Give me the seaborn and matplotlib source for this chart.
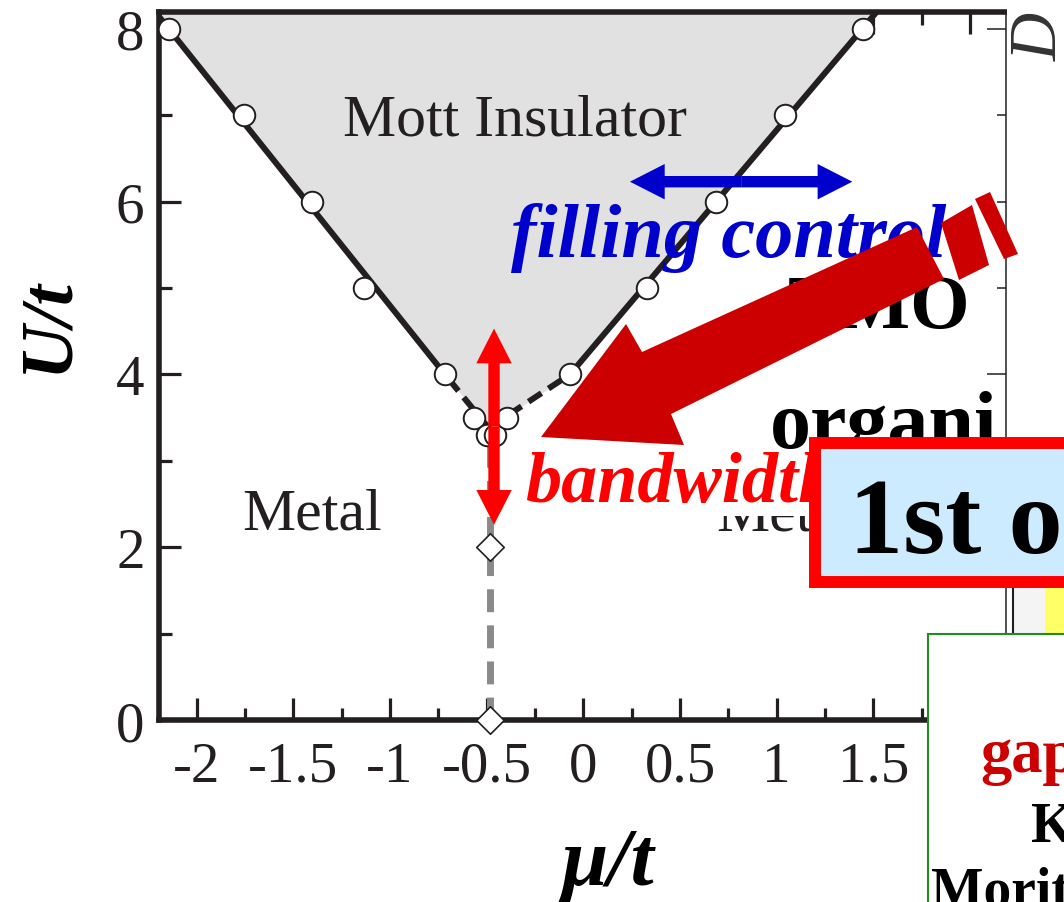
import matplotlib
matplotlib.use("Agg")
import matplotlib.pyplot as plt
from matplotlib.patches import Polygon, Rectangle, ArrowStyle
from matplotlib.ticker import MultipleLocator, FixedLocator, FixedFormatter
import seaborn as sns

# ---- data ---------------------------------------------------------------
# computed boundary of the Mott-insulating region (open circles)
mu_boundary = [-2.144, -1.756, -1.405, -1.133, -0.716, -0.564, -0.500,
               -0.457, -0.393, -0.069, 0.328, 0.688, 1.044, 1.444]
U_boundary = [8.0, 7.0, 6.0, 5.0, 4.0, 3.5, 3.3, 3.3, 3.5, 4.0, 5.0, 6.0, 7.0, 8.0]

# fitted edges of the insulating wedge (apex, U=4, top)
edge_U = [3.38, 4.0, 8.4]
edge_mu_left = [-0.49, -0.716, -2.287]
edge_mu_right = [-0.49, -0.069, 1.594]

# half-filling points (diamonds) and the metallic line below the apex
mu_half = [-0.485, -0.485]
U_half = [2.0, 0.0]
U_half_line = [0.0, 3.3]

# control arrows
filling_mu = [0.241, 1.391]
filling_U = [6.23, 6.23]
bandwidth_mu = [-0.462, -0.462]
bandwidth_U = [2.26, 4.53]

xtick_values = [-2, -1.5, -1, -0.5, 0, 0.5, 1, 1.5, 2]
xtick_labels = ["-2", "-1.5", "-1", "-0.5", "0", "0.5", "1", "1.5", "2"]
ytick_values = [0, 2, 4, 6, 8]
ytick_labels = ["0", "2", "4", "6", "8"]

INK = "#231F20"
DARK_RED = "#CC0000"
RED = "#FF0000"
BLUE = "#0000CC"

sns.set_theme(style="ticks")
plt.rcParams.update({
    "font.family": ["Liberation Serif", "DejaVu Serif"],
    "axes.unicode_minus": False,
})

W, H, DPI = 1064, 903, 100
fig = plt.figure(figsize=(W / DPI, H / DPI), dpi=DPI)
fig.patch.set_facecolor("white")

ax = fig.add_axes([0.14897, 0.20155, 0.79624, 0.78405])
ax_r = ax.twinx()
ax.set_zorder(2)
ax_r.set_zorder(1)
ax.patch.set_visible(False)

XLIM = (-2.197, 2.184)
YLIM = (0.0, 8.194)
ax.set_xlim(*XLIM)
ax.set_ylim(*YLIM)
ax_r.set_ylim(*YLIM)

# ---- phase diagram -------------------------------------------------------
ax.fill_betweenx(edge_U, edge_mu_left, edge_mu_right, color="#E1E1E1", lw=0, zorder=1)

for edge in (edge_mu_left, edge_mu_right):
    sns.lineplot(x=edge[1:], y=edge_U[1:], sort=False, estimator=None, ax=ax,
                 color=INK, lw=4.3, zorder=3)
    sns.lineplot(x=edge[:2], y=edge_U[:2], sort=False, estimator=None, ax=ax,
                 color=INK, lw=4.3, linestyle=(0, (2.6, 1.4)), zorder=3)

sns.lineplot(x=mu_half, y=U_half_line, sort=False, estimator=None,
             orient="y", ax=ax, color="#8A8A8A", lw=5.0,
             linestyle=(0, (3.3, 1.9)), zorder=2)

sns.scatterplot(x=mu_boundary, y=U_boundary, ax=ax, marker="o", s=15.5 ** 2,
                color="white", edgecolor=INK, linewidth=1.4, zorder=4, legend=False)
sns.scatterplot(x=mu_half, y=U_half, ax=ax, marker="D", s=14.0 ** 2,
                color="white", edgecolor=INK, linewidth=1.2, zorder=5, legend=False)
ax.collections[-1].set_clip_on(False)


def double_arrow(axis, xs, ys, color, zorder):
    """Two filled arrows pointing outward from the midpoint."""
    mid = (sum(xs) / 2, sum(ys) / 2)
    style = ArrowStyle.Simple(head_length=25, head_width=25.5, tail_width=8.2)
    for end in zip(xs, ys):
        axis.annotate("", xy=end, xytext=mid, zorder=zorder,
                      arrowprops=dict(arrowstyle=style, mutation_scale=1, color=color,
                                      lw=0, shrinkA=0, shrinkB=0))


double_arrow(ax, filling_mu, filling_U, BLUE, 7)
double_arrow(ax, bandwidth_mu, bandwidth_U, RED, 7)

ax.text(-0.351, 6.78, "Mott Insulator", ha="center", va="baseline", fontsize=43,
        color=INK, zorder=3)
ax.text(-1.403, 2.22, "Metal", ha="center", va="baseline", fontsize=43, color=INK, zorder=3)
ax.text(0.686, 2.21, "Metal", ha="left", va="baseline", fontsize=43, color=INK, zorder=3)
ax.text(-0.372, 5.37, "filling control", ha="left", va="baseline", fontsize=55,
        fontweight="bold", fontstyle="italic", color=BLUE, zorder=6)
ax.text(-0.300, 2.53, "bandwidth", ha="left", va="baseline", fontsize=52,
        fontweight="bold", fontstyle="italic", color=RED, zorder=6,
        bbox=dict(facecolor="white", edgecolor="none", pad=0))

# ---- axes styling ----------------------------------------------------------
for side in ("left", "bottom", "top"):
    ax.spines[side].set_linewidth(4.0)
    ax.spines[side].set_color(INK)
ax.spines["right"].set_visible(False)

ax.xaxis.set_major_locator(FixedLocator(xtick_values))
ax.xaxis.set_major_formatter(FixedFormatter(xtick_labels))
ax.xaxis.set_minor_locator(MultipleLocator(0.25))
ax.yaxis.set_major_locator(FixedLocator(ytick_values))
ax.yaxis.set_major_formatter(FixedFormatter(ytick_labels))
ax.yaxis.set_minor_locator(MultipleLocator(1))

ax.tick_params(axis="both", which="both", direction="in", color=INK, width=2.3,
               labelcolor=INK, labelsize=41)
ax.tick_params(axis="both", which="major", length=16)
ax.tick_params(axis="both", which="minor", length=9)
ax.tick_params(axis="x", which="both", top=True, bottom=True, pad=15)
ax.tick_params(axis="y", which="both", left=True, right=False, pad=10)

ax.set_xlabel("μ/t", fontsize=60, fontweight="bold", fontstyle="italic", color="black")
ax.xaxis.set_label_coords(0.530, -0.231)
ax.xaxis.label.set_va("baseline")
ax.set_ylabel("U/t", fontsize=54, fontweight="bold", fontstyle="italic", color="black")
ax.yaxis.set_label_coords(-0.1092, 0.5593)
ax.yaxis.label.set_va("baseline")

for side in ("left", "bottom", "top"):
    ax_r.spines[side].set_visible(False)
ax_r.spines["right"].set_linewidth(1.1)
ax_r.spines["right"].set_color(INK)
ax_r.yaxis.set_major_locator(MultipleLocator(4))
ax_r.yaxis.set_minor_locator(MultipleLocator(1))
ax_r.tick_params(axis="y", which="both", direction="in", color=INK, width=1.1,
                 labelright=False, right=True)
ax_r.tick_params(axis="y", which="major", length=13.7)
ax_r.tick_params(axis="y", which="minor", length=6.5)

# ---- surrounding slide elements (figure pixel frame) --------------------
ov = fig.add_axes([0, 0, 1, 1])
ov.set_zorder(3)
ov.set_xlim(0, W)
ov.set_ylim(H, 0)
ov.axis("off")
ov.patch.set_visible(False)

ov.text(970, 328, "TMO", ha="right", va="baseline", fontsize=55, fontweight="bold",
        color="black", zorder=1)
ov.text(770, 448, "organi", ha="left", va="baseline", fontsize=59, fontweight="bold",
        color="black", zorder=1)
ov.add_patch(Rectangle((1007, -5), 80, 438, facecolor="white", edgecolor="none", zorder=2))
ov.text(1040, 37, "D", rotation=90, ha="center", va="center", fontsize=48,
        fontstyle="italic", color="#333333", zorder=3)

big_arrow = [(917, 228), (642, 353), (626, 325), (541, 438), (684, 446), (671, 415), (944, 280)]
ov.add_patch(Polygon(big_arrow, closed=True, facecolor=DARK_RED, edgecolor="none", zorder=4))
stripe_a = [(941, 224), (972, 206), (989, 266), (959, 281)]
stripe_b = [(975, 200), (990, 193), (1018, 255), (1004, 260)]
for stripe in (stripe_a, stripe_b):
    ov.add_patch(Polygon(stripe, closed=True, facecolor=DARK_RED, edgecolor="none", zorder=4))

ov.add_patch(Rectangle((1014, 589), 31, 46, facecolor="#F4F4F4", edgecolor="none", zorder=4))
ov.add_patch(Rectangle((1045, 589), 40, 46, facecolor="#FFFF66", edgecolor="none", zorder=4))
ov.plot([1012.5, 1012.5], [589, 635], color=INK, lw=1.5, zorder=4)

ov.add_patch(Rectangle((814.6, 444), 400, 139, facecolor="#CCEBFF", edgecolor=RED,
                       lw=8.6, joinstyle="miter", zorder=5))
ov.text(849, 553, "1st order", ha="left", va="baseline", fontsize=78, fontweight="bold",
        color="black", zorder=6)

ov.add_patch(Rectangle((928, 635), 300, 300, facecolor="white", edgecolor="#1E8C1E",
                       lw=1.5, zorder=5))
ov.text(980, 772, "gap", ha="left", va="baseline", fontsize=45, fontweight="bold",
        color=DARK_RED, zorder=6)
ov.text(1031, 842, "K", ha="left", va="baseline", fontsize=40, fontweight="bold",
        color="black", zorder=6)
ov.text(931, 907, "Morit", ha="left", va="baseline", fontsize=40, fontweight="bold",
        color="black", zorder=6)

fig.savefig("out.png", dpi=DPI, facecolor="white")
